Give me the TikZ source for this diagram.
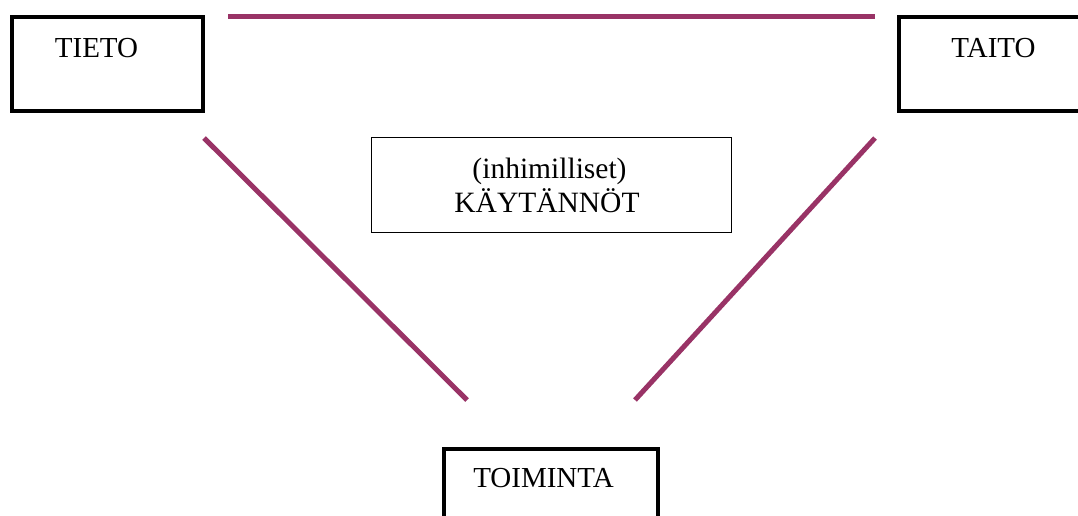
\documentclass[tikz,border=0pt]{standalone}
\usepackage{fontspec}
\setmainfont{Liberation Serif}
\definecolor{plum}{HTML}{993366}
\tikzset{
  heavybox/.style={draw=black, line width=4pt, rectangle, inner sep=0pt},
  thinbox/.style={draw=black, line width=1.6pt, rectangle, inner sep=0pt},
  lbl/.style={font=\fontsize{29}{34}\selectfont, inner sep=0pt, anchor=base},
  link/.style={draw=plum, line width=5pt}
}
\begin{document}
\begin{tikzpicture}[x=1pt,y=-1pt]
\useasboundingbox (0,0) rectangle (1078,515);
\clip (0,0) rectangle (1078,515);
% boxes
\node[heavybox, minimum width=191pt, minimum height=94pt] (tieto) at (107.5,64) {};
\node[heavybox, minimum width=201pt, minimum height=94pt] (taito) at (999.5,64) {};
\node[heavybox, minimum width=214pt, minimum height=111pt] (toiminta) at (551,504.5) {};
\node[thinbox, minimum width=360pt, minimum height=95pt] (kaytannot) at (551.5,185) {};
% texts
\node[lbl] (tietot) at (96.5,57) {TIETO};
\node[lbl] (taitot) at (993.5,57) {TAITO};
\node[lbl] (toimintat) at (543.5,487) {TOIMINTA};
\node[lbl, font=\fontsize{29.5}{35}\selectfont] (inh) at (549.5,178) {(inhimilliset)};
\node[lbl, font=\fontsize{29.5}{35}\selectfont] (kay) at (547,212) {KÄYTÄNNÖT};
% connector end points
\coordinate (a1) at (228,16.5);
\coordinate (a2) at (875,16.5);
\coordinate (b1) at (204,138);
\coordinate (b2) at (467,400);
\coordinate (c1) at (875,138);
\coordinate (c2) at (635,400);
\draw[link] (a1) -- (a2);
\draw[link] (b1) -- (b2);
\draw[link] (c1) -- (c2);
\end{tikzpicture}
\end{document}
